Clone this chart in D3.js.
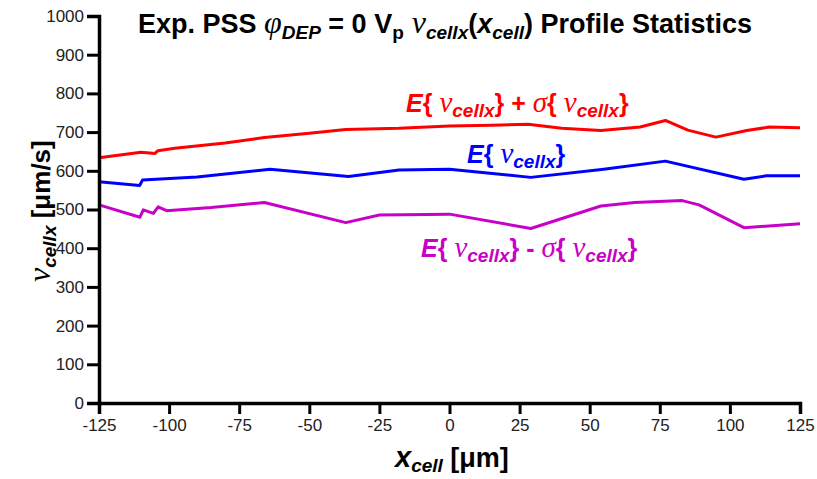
<!DOCTYPE html>
<meta charset="utf-8">
<style>
  body {margin: 0; background: #fff; font-family: 'Liberation Sans', Arial, sans-serif;}
  .tick text {font-size: 17px; fill: #222;}
</style>
<svg width="817" height="479"></svg>
<script src="https://d3js.org/d3.v7.min.js"></script>
<script>

// E + sigma
var upperX = [-125, -110, -105, -104, -98, -80, -66, -50, -37, -18, 0, 15, 28, 40, 54, 68, 77, 85, 95, 106, 114, 125];
var upperV = [634, 648, 645, 652, 658, 672, 686, 697, 707, 710, 716, 718, 720, 710, 704, 713, 730, 705, 687, 704, 713, 711];

// E
var meanX = [-125, -110.5, -109.5, -90, -64, -36, -18, 0, 29, 55, 77, 105, 113, 125];
var meanV = [572, 562, 576, 584, 604, 585, 602, 604, 583, 604, 625, 578, 587, 587];

// E - sigma
var lowerX = [-125, -110.4, -109.2, -105.6, -103.9, -100.9, -85, -66, -37, -25, 0, 29, 54, 66, 83, 89, 105, 125];
var lowerV = [512, 480, 499, 490, 507, 497, 505, 518, 466, 486, 488, 451, 509, 518, 523, 512, 453, 463];

var xTicks = [-125, -100, -75, -50, -25, 0, 25, 50, 75, 100, 125];
var yTicks = [0, 100, 200, 300, 400, 500, 600, 700, 800, 900, 1000];

var svg = d3.select("svg");

var x = d3.scaleLinear().domain([-125, 125]).range([99, 800]);
var y = d3.scaleLinear().domain([0, 1000]).range([403, 16]);

var line = d3.line()
    .x(function(d) { return x(d[0]); })
    .y(function(d) { return y(d[1]); });

function pairs(xs, vs) {
  return xs.map(function(v, i) { return [v, vs[i]]; });
}

var series = [
  {pts: pairs(upperX, upperV), color: "#ff0000"},
  {pts: pairs(meanX, meanV), color: "#0000ff"},
  {pts: pairs(lowerX, lowerV), color: "#c800c8"}
];

svg.append("g").selectAll("path")
    .data(series)
    .enter().append("path")
    .attr("d", function(d) { return line(d.pts); })
    .attr("fill", "none")
    .attr("stroke", function(d) { return d.color; })
    .attr("stroke-width", 3)
    .attr("stroke-linejoin", "round");

var fmt = function(d) { return String(d); };  // plain hyphen, no thousands comma

var xAxis = svg.append("g")
    .attr("transform", "translate(0," + y(0) + ")")
    .call(d3.axisBottom(x).tickValues(xTicks).tickFormat(fmt).tickSize(11).tickPadding(5));
var yAxis = svg.append("g")
    .attr("transform", "translate(" + x(-125) + ",0)")
    .call(d3.axisLeft(y).tickValues(yTicks).tickFormat(fmt).tickSize(12).tickPadding(3));

[xAxis, yAxis].forEach(function(a) {
  a.select(".domain").attr("stroke", "#000").attr("stroke-width", 3.5);
  a.selectAll(".tick line").attr("stroke", "#000").attr("stroke-width", 3);
  a.selectAll(".tick text").attr("font-family", "'Liberation Sans', Arial, sans-serif");
});

function rich(g, parts) {
  parts.forEach(function(p) {
    var s = g.append("tspan").text(p.t);
    if (p.serif) s.attr("font-family", "'Liberation Serif', 'Times New Roman', serif").attr("font-weight", "normal");
    if (p.it) s.attr("font-style", "italic");
    if (p.size) s.attr("font-size", p.size);
    if (p.dy) s.attr("dy", p.dy);
  });
}

// title
var title = svg.append("text")
    .attr("x", 138).attr("y", 33)
    .attr("font-size", 27).attr("font-weight", "bold").attr("fill", "#000");
rich(title, [
  {t: "Exp. PSS "},
  {t: "\u03c6", serif: true, it: true, size: 32},
  {t: "DEP", it: true, size: 19, dy: 6},
  {t: " = 0 V", dy: -6},
  {t: "p", size: 19, dy: 6},
  {t: " \u03bd", serif: true, it: true, size: 32, dy: -6},
  {t: "cellx", it: true, size: 19, dy: 6},
  {t: "(", dy: -6},
  {t: "x", it: true},
  {t: "cell", it: true, size: 19, dy: 6},
  {t: ") Profile Statistics", dy: -6}
]);

// annotations
function label(xp, yp, color, withSigma, sign) {
  var t = svg.append("text")
      .attr("x", xp).attr("y", yp)
      .attr("font-size", 25).attr("font-weight", "bold").attr("fill", color);
  var parts = [
    {t: "E", it: true},
    {t: "{ "},
    {t: "\u03bd", serif: true, it: true, size: 29},
    {t: "cellx", it: true, size: 19, dy: 5},
    {t: "}", dy: -5}
  ];
  if (withSigma) {
    parts = parts.concat([
      {t: " " + sign + " "},
      {t: "\u03c3", serif: true, it: true, size: 29},
      {t: "{ "},
      {t: "\u03bd", serif: true, it: true, size: 29},
      {t: "cellx", it: true, size: 19, dy: 5},
      {t: "}", dy: -5}
    ]);
  }
  rich(t, parts);
}
label(406, 112, "#ff0000", true, "+");
label(467, 163, "#0000ff", false);
label(421, 257, "#c800c8", true, "-");

// axis titles
var xl = svg.append("text")
    .attr("x", 395).attr("y", 467)
    .attr("font-size", 27).attr("font-weight", "bold").attr("fill", "#000");
rich(xl, [
  {t: "x", it: true, size: 29},
  {t: "cell", it: true, size: 19, dy: 5},
  {t: " [\u03bcm]", dy: -5}
]);

var yl = svg.append("text")
    .attr("transform", "translate(50,282) rotate(-90)")
    .attr("font-size", 26).attr("font-weight", "bold").attr("fill", "#000");
rich(yl, [
  {t: "\u03bd", serif: true, it: true, size: 32},
  {t: "cellx", it: true, size: 19, dy: 6},
  {t: " [\u03bcm/s]", dy: -6}
]);

</script>
